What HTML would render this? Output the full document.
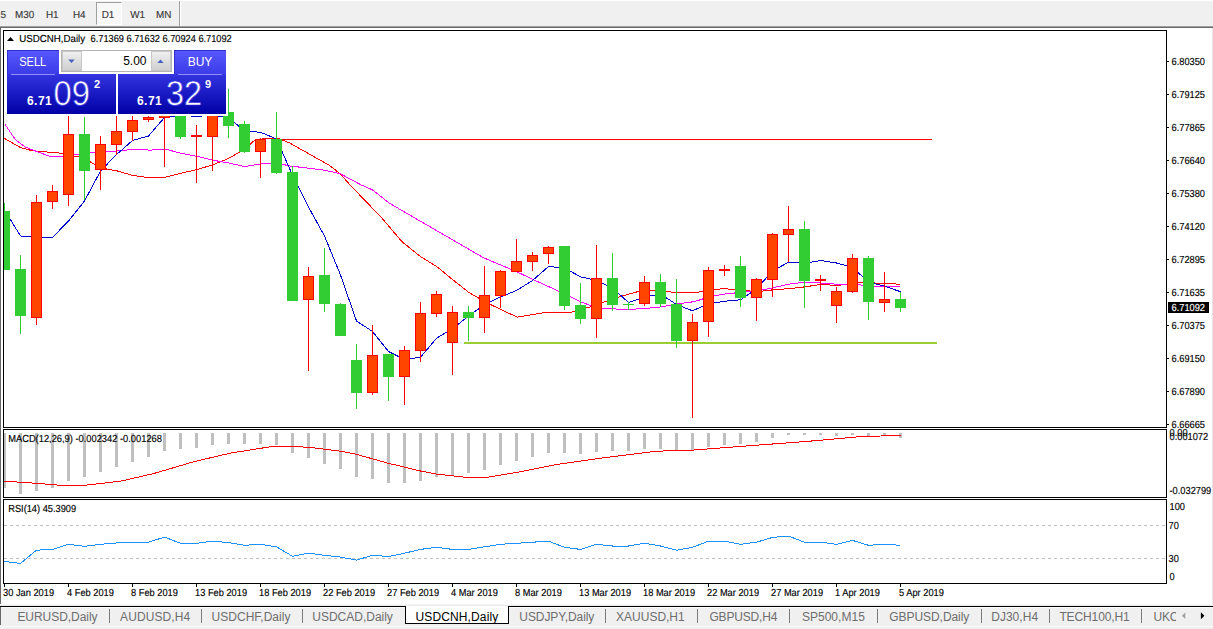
<!DOCTYPE html>
<html><head><meta charset="utf-8"><title>USDCNH,Daily</title>
<style>
html,body{margin:0;padding:0;background:#fff;}
body{width:1213px;height:629px;position:relative;overflow:hidden;font-family:"Liberation Sans", sans-serif;}
.abs{position:absolute}
#toolbar{position:absolute;left:0;top:1px;width:1213px;height:25px;background:#f0f0f0}
.tb{position:absolute;top:8px;font-size:9px;line-height:12px;color:#3c3c3c;white-space:pre}
#d1{position:absolute;left:96px;top:1px;width:24px;height:21px;background:#f8f8f8;border-left:1px solid #a0a0a0;border-top:1px solid #a0a0a0;border-right:1px solid #fff;border-bottom:1px solid #fff;box-sizing:content-box}
#tabs{position:absolute;left:0;top:606px;width:1213px;height:23px;background:#f0f0f0;border-top:1px solid #000;box-sizing:border-box}
.tab{position:absolute;top:3px;font-size:12px;line-height:14px;color:#6e6e6e;white-space:pre}
.tab.act{color:#000}
.sep{position:absolute;top:2px;width:1px;height:14px;background:#7a7a7a}
#act{position:absolute;left:405px;top:606px;width:102px;height:17px;background:#fff;border:1px solid #000;border-top:none}
/* trade panel */
#panel{position:absolute;left:5px;top:48px;width:223px;height:68px;background:#fff}
.btn{position:absolute;top:2px;width:52px;height:24px;background:linear-gradient(#5858ff,#3c3ce8);box-shadow:inset 1px 1px 0 #3030d0;color:#fff;font-size:12px;line-height:24px;text-align:center}
.btn span{display:inline-block;transform:scaleX(0.88)}
.btn{z-index:2}
.btn i{position:absolute;left:4px;right:4px;bottom:-1px;height:1px;background:#8f8ff5}
.px{position:absolute;top:26px;height:40px;background:linear-gradient(#3434e0,#0000a6);color:#fff}
.px b{position:absolute;font-size:12px;line-height:12px;top:21px;letter-spacing:0.45px}
.px em{position:absolute;font-style:normal;font-size:33.5px;line-height:34px;top:2.5px;transform:scaleX(0.945);transform-origin:0 0}
.px sup{position:absolute;font-weight:bold;font-size:11px;line-height:12px;top:4px}
#spin{position:absolute;left:56px;top:2px;width:109px;height:20px;border:1px solid #b4b4b4;background:#fff}
.sb{position:absolute;top:0;width:20px;height:20px;background:linear-gradient(#efefef,#cfcfcf);border:1px solid #c8c8c8;box-sizing:border-box}
#vol{position:absolute;right:24.5px;top:3px;font-size:12px;line-height:14px;color:#000}
</style></head><body>
<div id="toolbar"><div id="d1"></div><div class="abs" style="left:179px;top:0;width:1px;height:25px;background:#a0a0a0"></div><div class="abs" style="left:180px;top:0;width:1px;height:25px;background:#fff"></div></div>
<div class="abs" style="left:0;top:26px;width:1213px;height:1px;background:#a0a0a0"></div>
<div class="abs" style="left:0;top:27px;width:1213px;height:1px;background:#696969"></div>
<div class="abs" style="left:0;top:28px;width:1px;height:576px;background:#696969"></div>
<div class="abs" style="left:1212px;top:28px;width:1px;height:578px;background:#e6e6e6"></div>
<div class="abs" style="left:0;top:604px;width:1213px;height:1px;background:#f6f6f6"></div><div class="abs" style="left:0;top:605px;width:1213px;height:1px;background:#ebebeb"></div>
<svg width="1213" height="629" viewBox="0 0 1213 629" style="position:absolute;left:0;top:0"><defs><clipPath id="c1"><rect x="4" y="31" width="1162" height="396"/></clipPath><clipPath id="c2"><rect x="4" y="430" width="1162" height="67"/></clipPath><clipPath id="c3"><rect x="4" y="500" width="1162" height="83"/></clipPath></defs>
<g clip-path="url(#c1)" shape-rendering="crispEdges">
<rect x="276" y="139" width="656" height="1" fill="#ff0000"/>
<rect x="464" y="342" width="473" height="2" fill="#9acd32"/>
<polyline points="4.5,138.4 20.5,147.6 32.5,150.8 62.5,153.3 84.5,158.3 100.5,168 116.5,170.7 132.5,175.4 146.5,177.3 165,177.3 181.1,173.2 197.2,169.5 212.7,164.9 228.8,158.3 244.8,149 254.5,140.3 260.8,139.1 277,137.9 289.4,142.8 309.2,154 329,165.1 340,173.6 350.1,185 380.9,217 402,241.7 420.5,256.6 436.7,266.5 452.5,279.5 468.5,292.2 484.5,301.5 500.5,309.4 517.3,317.1 544.5,312.6 560.5,312.2 571.5,312.2 591.5,306.5 612.5,299.1 628.5,294.1 644.5,289.9 660.5,290.4 677,292.9 694.5,292.9 708.5,289.9 724.2,288.7 740.3,289.9 756.5,291.7 772.5,289.9 788.5,288.7 804.5,286.9 821.5,284.4 837.5,285.5 863.5,282.2 874.5,283 900.5,284.2" fill="none" stroke="#ff0000" stroke-width="1"/>
<polyline points="4.5,123.6 15.4,139.7 25.3,147.1 50.1,156.5 60,156.5 84.8,153.3 100.9,151.5 120.3,150.9 132.7,149.3 140.2,149.3 150.1,150.2 165,149 181.1,153.3 197.2,156.4 212.7,160.2 228.8,162.9 244.3,166.6 260.8,163.8 275.5,162.7 289.4,165.9 324.1,170.1 340,173.6 361.3,185 372.2,189.7 389.5,203.3 483.8,257.9 516.1,271.5 533.5,279.7 570.5,296.6 580.3,301.6 591.5,306 602.5,308.5 628.5,309.5 644.5,308.5 660.5,307 677,304 694.5,301.6 708.5,297.1 724.2,294.1 740.3,292.4 756.5,290.9 772.5,287.9 788.5,284.2 804.5,282.2 820.9,283 836.5,284.2 852.5,284.2 879.5,286.7 900.5,286.2" fill="none" stroke="#ff00ff" stroke-width="1"/>
<polyline points="4.5,210 20.5,236 36.5,236.8 52.5,237.4 68.5,221 84.5,201 100.5,171 116.5,154.6 132.5,140.5 148.5,136 164.5,117.5 180.5,115.3 196.5,116.4 212.5,115.3 228.5,117.2 244.5,131.3 260.5,132.2 276.5,139 292.5,175 308.5,207 324.5,236 340.5,275 356.5,321 372.5,331.5 388.5,351.5 404.5,359.5 420.5,357.3 436.5,338.2 452.5,328.8 468.5,316 484.5,304.7 500.5,297 516.5,290.5 532.5,280.5 548.5,266.5 564.5,268 580.5,276.8 596.5,280.5 612.5,288 628.5,302.5 644.5,297 660.5,294 676.5,304.5 692.5,310.8 708.5,303.8 724.5,301.2 740.5,299.8 756.5,289 772.5,271 788.5,262.2 804.5,263.3 820.5,260.5 836.5,263 852.5,267.5 868.5,282 884.5,286.2 900.5,291.7" fill="none" stroke="#0000cd" stroke-width="1"/>
<rect x="4" y="203" width="1" height="67" fill="#32cd32"/>
<rect x="-1" y="211" width="11" height="59" fill="#32cd32"/>
<rect x="20" y="255" width="1" height="79" fill="#32cd32"/>
<rect x="15" y="269" width="11" height="47" fill="#32cd32"/>
<rect x="36" y="195" width="1" height="130" fill="#ff0000"/>
<rect x="31" y="202" width="11" height="116" fill="#ff0000"/>
<rect x="32" y="203" width="9" height="114" fill="#ff4500"/>
<rect x="52" y="185" width="1" height="24" fill="#ff0000"/>
<rect x="47" y="191" width="11" height="11" fill="#ff0000"/>
<rect x="48" y="192" width="9" height="9" fill="#ff4500"/>
<rect x="68" y="116" width="1" height="90" fill="#ff0000"/>
<rect x="63" y="134" width="11" height="61" fill="#ff0000"/>
<rect x="64" y="135" width="9" height="59" fill="#ff4500"/>
<rect x="84" y="117" width="1" height="83" fill="#32cd32"/>
<rect x="79" y="134" width="11" height="37" fill="#32cd32"/>
<rect x="100" y="136" width="1" height="54" fill="#ff0000"/>
<rect x="95" y="144" width="11" height="26" fill="#ff0000"/>
<rect x="96" y="145" width="9" height="24" fill="#ff4500"/>
<rect x="116" y="110" width="1" height="45" fill="#ff0000"/>
<rect x="111" y="131" width="11" height="14" fill="#ff0000"/>
<rect x="112" y="132" width="9" height="12" fill="#ff4500"/>
<rect x="132" y="110" width="1" height="31" fill="#ff0000"/>
<rect x="127" y="120" width="11" height="12" fill="#ff0000"/>
<rect x="128" y="121" width="9" height="10" fill="#ff4500"/>
<rect x="148" y="115" width="1" height="7" fill="#ff0000"/>
<rect x="143" y="117" width="11" height="3" fill="#ff0000"/>
<rect x="144" y="118" width="9" height="1" fill="#ff4500"/>
<rect x="164" y="105" width="1" height="62" fill="#ff0000"/>
<rect x="159" y="110" width="11" height="8" fill="#ff0000"/>
<rect x="160" y="111" width="9" height="6" fill="#ff4500"/>
<rect x="180" y="105" width="1" height="34" fill="#32cd32"/>
<rect x="175" y="110" width="11" height="27" fill="#32cd32"/>
<rect x="196" y="125" width="1" height="58" fill="#ff0000"/>
<rect x="191" y="135" width="11" height="2" fill="#ff0000"/>
<rect x="212" y="105" width="1" height="66" fill="#ff0000"/>
<rect x="207" y="110" width="11" height="27" fill="#ff0000"/>
<rect x="208" y="111" width="9" height="25" fill="#ff4500"/>
<rect x="228" y="89" width="1" height="49" fill="#32cd32"/>
<rect x="223" y="112" width="11" height="14" fill="#32cd32"/>
<rect x="244" y="121" width="1" height="32" fill="#32cd32"/>
<rect x="239" y="124" width="11" height="28" fill="#32cd32"/>
<rect x="260" y="138" width="1" height="40" fill="#ff0000"/>
<rect x="255" y="139" width="11" height="13" fill="#ff0000"/>
<rect x="256" y="140" width="9" height="11" fill="#ff4500"/>
<rect x="276" y="112" width="1" height="62" fill="#32cd32"/>
<rect x="271" y="139" width="11" height="34" fill="#32cd32"/>
<rect x="292" y="166" width="1" height="135" fill="#32cd32"/>
<rect x="287" y="172" width="11" height="129" fill="#32cd32"/>
<rect x="308" y="267" width="1" height="104" fill="#ff0000"/>
<rect x="303" y="276" width="11" height="24" fill="#ff0000"/>
<rect x="304" y="277" width="9" height="22" fill="#ff4500"/>
<rect x="324" y="248" width="1" height="64" fill="#32cd32"/>
<rect x="319" y="275" width="11" height="29" fill="#32cd32"/>
<rect x="340" y="303" width="1" height="33" fill="#32cd32"/>
<rect x="335" y="304" width="11" height="32" fill="#32cd32"/>
<rect x="356" y="344" width="1" height="65" fill="#32cd32"/>
<rect x="351" y="360" width="11" height="33" fill="#32cd32"/>
<rect x="372" y="325" width="1" height="70" fill="#ff0000"/>
<rect x="367" y="355" width="11" height="38" fill="#ff0000"/>
<rect x="368" y="356" width="9" height="36" fill="#ff4500"/>
<rect x="388" y="354" width="1" height="47" fill="#32cd32"/>
<rect x="383" y="354" width="11" height="23" fill="#32cd32"/>
<rect x="404" y="346" width="1" height="59" fill="#ff0000"/>
<rect x="399" y="350" width="11" height="27" fill="#ff0000"/>
<rect x="400" y="351" width="9" height="25" fill="#ff4500"/>
<rect x="420" y="302" width="1" height="60" fill="#ff0000"/>
<rect x="415" y="313" width="11" height="38" fill="#ff0000"/>
<rect x="416" y="314" width="9" height="36" fill="#ff4500"/>
<rect x="436" y="291" width="1" height="26" fill="#ff0000"/>
<rect x="431" y="294" width="11" height="20" fill="#ff0000"/>
<rect x="432" y="295" width="9" height="18" fill="#ff4500"/>
<rect x="452" y="306" width="1" height="69" fill="#ff0000"/>
<rect x="447" y="312" width="11" height="31" fill="#ff0000"/>
<rect x="448" y="313" width="9" height="29" fill="#ff4500"/>
<rect x="468" y="306" width="1" height="35" fill="#32cd32"/>
<rect x="463" y="312" width="11" height="6" fill="#32cd32"/>
<rect x="484" y="266" width="1" height="67" fill="#ff0000"/>
<rect x="479" y="295" width="11" height="23" fill="#ff0000"/>
<rect x="480" y="296" width="9" height="21" fill="#ff4500"/>
<rect x="500" y="270" width="1" height="38" fill="#ff0000"/>
<rect x="495" y="271" width="11" height="25" fill="#ff0000"/>
<rect x="496" y="272" width="9" height="23" fill="#ff4500"/>
<rect x="516" y="239" width="1" height="33" fill="#ff0000"/>
<rect x="511" y="261" width="11" height="11" fill="#ff0000"/>
<rect x="512" y="262" width="9" height="9" fill="#ff4500"/>
<rect x="532" y="252" width="1" height="19" fill="#ff0000"/>
<rect x="527" y="255" width="11" height="7" fill="#ff0000"/>
<rect x="528" y="256" width="9" height="5" fill="#ff4500"/>
<rect x="548" y="246" width="1" height="18" fill="#ff0000"/>
<rect x="543" y="247" width="11" height="7" fill="#ff0000"/>
<rect x="544" y="248" width="9" height="5" fill="#ff4500"/>
<rect x="564" y="246" width="1" height="64" fill="#32cd32"/>
<rect x="559" y="246" width="11" height="60" fill="#32cd32"/>
<rect x="580" y="283" width="1" height="41" fill="#32cd32"/>
<rect x="575" y="305" width="11" height="14" fill="#32cd32"/>
<rect x="596" y="245" width="1" height="93" fill="#ff0000"/>
<rect x="591" y="278" width="11" height="41" fill="#ff0000"/>
<rect x="592" y="279" width="9" height="39" fill="#ff4500"/>
<rect x="612" y="253" width="1" height="58" fill="#32cd32"/>
<rect x="607" y="278" width="11" height="27" fill="#32cd32"/>
<rect x="628" y="302" width="1" height="8" fill="#32cd32"/>
<rect x="623" y="304" width="11" height="1" fill="#32cd32"/>
<rect x="644" y="276" width="1" height="30" fill="#ff0000"/>
<rect x="639" y="282" width="11" height="22" fill="#ff0000"/>
<rect x="640" y="283" width="9" height="20" fill="#ff4500"/>
<rect x="660" y="274" width="1" height="33" fill="#32cd32"/>
<rect x="655" y="282" width="11" height="22" fill="#32cd32"/>
<rect x="676" y="279" width="1" height="69" fill="#32cd32"/>
<rect x="671" y="304" width="11" height="37" fill="#32cd32"/>
<rect x="692" y="314" width="1" height="104" fill="#ff0000"/>
<rect x="687" y="322" width="11" height="19" fill="#ff0000"/>
<rect x="688" y="323" width="9" height="17" fill="#ff4500"/>
<rect x="708" y="267" width="1" height="70" fill="#ff0000"/>
<rect x="703" y="270" width="11" height="52" fill="#ff0000"/>
<rect x="704" y="271" width="9" height="50" fill="#ff4500"/>
<rect x="724" y="265" width="1" height="11" fill="#ff0000"/>
<rect x="719" y="269" width="11" height="2" fill="#ff0000"/>
<rect x="740" y="256" width="1" height="51" fill="#32cd32"/>
<rect x="735" y="266" width="11" height="32" fill="#32cd32"/>
<rect x="756" y="278" width="1" height="43" fill="#ff0000"/>
<rect x="751" y="279" width="11" height="19" fill="#ff0000"/>
<rect x="752" y="280" width="9" height="17" fill="#ff4500"/>
<rect x="772" y="233" width="1" height="64" fill="#ff0000"/>
<rect x="767" y="234" width="11" height="46" fill="#ff0000"/>
<rect x="768" y="235" width="9" height="44" fill="#ff4500"/>
<rect x="788" y="206" width="1" height="56" fill="#ff0000"/>
<rect x="783" y="229" width="11" height="6" fill="#ff0000"/>
<rect x="784" y="230" width="9" height="4" fill="#ff4500"/>
<rect x="804" y="221" width="1" height="87" fill="#32cd32"/>
<rect x="799" y="229" width="11" height="52" fill="#32cd32"/>
<rect x="820" y="275" width="1" height="16" fill="#ff0000"/>
<rect x="815" y="279" width="11" height="2" fill="#ff0000"/>
<rect x="836" y="287" width="1" height="36" fill="#ff0000"/>
<rect x="831" y="291" width="11" height="15" fill="#ff0000"/>
<rect x="832" y="292" width="9" height="13" fill="#ff4500"/>
<rect x="852" y="254" width="1" height="39" fill="#ff0000"/>
<rect x="847" y="258" width="11" height="34" fill="#ff0000"/>
<rect x="848" y="259" width="9" height="32" fill="#ff4500"/>
<rect x="868" y="256" width="1" height="64" fill="#32cd32"/>
<rect x="863" y="258" width="11" height="44" fill="#32cd32"/>
<rect x="884" y="272" width="1" height="40" fill="#ff0000"/>
<rect x="879" y="299" width="11" height="4" fill="#ff0000"/>
<rect x="880" y="300" width="9" height="2" fill="#ff4500"/>
<rect x="900" y="292" width="1" height="20" fill="#32cd32"/>
<rect x="895" y="299" width="11" height="9" fill="#32cd32"/>
</g>
<g clip-path="url(#c2)" shape-rendering="crispEdges">
<rect x="3" y="433" width="3" height="55" fill="#c0c0c0"/>
<rect x="19" y="433" width="3" height="61" fill="#c0c0c0"/>
<rect x="35" y="433" width="3" height="58" fill="#c0c0c0"/>
<rect x="51" y="433" width="3" height="55" fill="#c0c0c0"/>
<rect x="67" y="433" width="3" height="48" fill="#c0c0c0"/>
<rect x="83" y="433" width="3" height="44" fill="#c0c0c0"/>
<rect x="99" y="433" width="3" height="39" fill="#c0c0c0"/>
<rect x="115" y="433" width="3" height="34" fill="#c0c0c0"/>
<rect x="131" y="433" width="3" height="29" fill="#c0c0c0"/>
<rect x="147" y="433" width="3" height="24" fill="#c0c0c0"/>
<rect x="163" y="433" width="3" height="18" fill="#c0c0c0"/>
<rect x="179" y="433" width="3" height="16" fill="#c0c0c0"/>
<rect x="195" y="433" width="3" height="15" fill="#c0c0c0"/>
<rect x="211" y="433" width="3" height="12" fill="#c0c0c0"/>
<rect x="227" y="433" width="3" height="11" fill="#c0c0c0"/>
<rect x="243" y="433" width="3" height="11" fill="#c0c0c0"/>
<rect x="259" y="433" width="3" height="11" fill="#c0c0c0"/>
<rect x="275" y="433" width="3" height="12" fill="#c0c0c0"/>
<rect x="291" y="433" width="3" height="20" fill="#c0c0c0"/>
<rect x="307" y="433" width="3" height="25" fill="#c0c0c0"/>
<rect x="323" y="433" width="3" height="31" fill="#c0c0c0"/>
<rect x="339" y="433" width="3" height="36" fill="#c0c0c0"/>
<rect x="355" y="433" width="3" height="44" fill="#c0c0c0"/>
<rect x="371" y="433" width="3" height="46" fill="#c0c0c0"/>
<rect x="387" y="433" width="3" height="50" fill="#c0c0c0"/>
<rect x="403" y="433" width="3" height="50" fill="#c0c0c0"/>
<rect x="419" y="433" width="3" height="48" fill="#c0c0c0"/>
<rect x="435" y="433" width="3" height="44" fill="#c0c0c0"/>
<rect x="451" y="433" width="3" height="42" fill="#c0c0c0"/>
<rect x="467" y="433" width="3" height="40" fill="#c0c0c0"/>
<rect x="483" y="433" width="3" height="37" fill="#c0c0c0"/>
<rect x="499" y="433" width="3" height="32" fill="#c0c0c0"/>
<rect x="515" y="433" width="3" height="28" fill="#c0c0c0"/>
<rect x="531" y="433" width="3" height="24" fill="#c0c0c0"/>
<rect x="547" y="433" width="3" height="20" fill="#c0c0c0"/>
<rect x="563" y="433" width="3" height="20" fill="#c0c0c0"/>
<rect x="579" y="433" width="3" height="21" fill="#c0c0c0"/>
<rect x="595" y="433" width="3" height="19" fill="#c0c0c0"/>
<rect x="611" y="433" width="3" height="18" fill="#c0c0c0"/>
<rect x="627" y="433" width="3" height="18" fill="#c0c0c0"/>
<rect x="643" y="433" width="3" height="16" fill="#c0c0c0"/>
<rect x="659" y="433" width="3" height="16" fill="#c0c0c0"/>
<rect x="675" y="433" width="3" height="18" fill="#c0c0c0"/>
<rect x="691" y="433" width="3" height="18" fill="#c0c0c0"/>
<rect x="707" y="433" width="3" height="14" fill="#c0c0c0"/>
<rect x="723" y="433" width="3" height="12" fill="#c0c0c0"/>
<rect x="739" y="433" width="3" height="11" fill="#c0c0c0"/>
<rect x="755" y="433" width="3" height="9" fill="#c0c0c0"/>
<rect x="771" y="433" width="3" height="5" fill="#c0c0c0"/>
<rect x="787" y="433" width="3" height="2" fill="#c0c0c0"/>
<rect x="803" y="433" width="3" height="2" fill="#c0c0c0"/>
<rect x="819" y="433" width="3" height="2" fill="#c0c0c0"/>
<rect x="835" y="433" width="3" height="3" fill="#c0c0c0"/>
<rect x="851" y="433" width="3" height="2" fill="#c0c0c0"/>
<rect x="867" y="433" width="3" height="3" fill="#c0c0c0"/>
<rect x="883" y="433" width="3" height="3" fill="#c0c0c0"/>
<rect x="899" y="433" width="3" height="5" fill="#c0c0c0"/>
<polyline points="4.3,481.2 36.3,483.3 64.4,485.6 87.4,485 120.5,481.2 153.5,473.6 194.5,461.5 230.5,453.1 273.9,446.2 291.5,446.2 310.5,447.5 341.5,451.3 356.5,454.4 388.5,463.3 420.5,471 435.9,474 466.5,477.4 487.1,477.4 517.5,472.3 556.1,464.6 600.5,458.2 651.5,451.8 677.2,450 693.8,450 753.8,445.4 804.9,441.6 856.1,437 900.5,435.2" fill="none" stroke="#ff0000" stroke-width="1"/>
</g>
<g clip-path="url(#c3)" shape-rendering="crispEdges">
<line x1="4" y1="525.5" x2="1166" y2="525.5" stroke="#c0c0c0" stroke-dasharray="3 3"/>
<line x1="4" y1="558.5" x2="1166" y2="558.5" stroke="#c0c0c0" stroke-dasharray="3 3"/>
<polyline points="4.5,561.4 20.5,563.4 36.5,550.2 52.5,549.4 68.5,544.3 84.5,546.3 100.5,544.3 116.5,543 132.5,542.2 148.5,542.2 164.5,537.1 180.5,543.3 196.5,543.3 212.5,541.2 228.5,542.5 244.5,545.3 260.5,544.3 276.5,546.8 292.5,556.3 308.5,553.2 324.5,555.3 340.5,557.1 356.5,560.1 372.5,555.3 388.5,556.5 404.5,553.2 420.5,549.4 436.5,547.3 452.5,549.4 468.5,549.4 484.5,546.8 500.5,544.3 516.5,543.3 532.5,542.2 548.5,541.2 564.5,547.3 580.5,549.4 596.5,544.3 612.5,546 628.5,546 644.5,543.3 660.5,546 676.5,550.2 692.5,547.3 708.5,541.2 724.5,541.2 740.5,544.3 756.5,542.2 772.5,537.4 788.5,536.1 804.5,542.2 820.5,542.2 836.5,544.3 852.5,540.4 868.5,545.3 884.5,544.3 900.5,545.3" fill="none" stroke="#1e90ff" stroke-width="1"/>
</g>
<g shape-rendering="crispEdges" fill="#000">
<rect x="3" y="30" width="1" height="554" fill="#000"/>
<rect x="3" y="30" width="1164" height="1" fill="#000"/>
<rect x="1166" y="30" width="1" height="398" fill="#000"/>
<rect x="3" y="427" width="1164" height="1" fill="#000"/>
<rect x="3" y="428" width="1" height="1" fill="#fff"/>
<rect x="3" y="429" width="1164" height="1" fill="#000"/>
<rect x="1166" y="429" width="1" height="69" fill="#000"/>
<rect x="3" y="497" width="1164" height="1" fill="#000"/>
<rect x="3" y="498" width="1" height="1" fill="#fff"/>
<rect x="3" y="499" width="1164" height="1" fill="#000"/>
<rect x="1166" y="499" width="1" height="85" fill="#000"/>
<rect x="3" y="583" width="1164" height="1" fill="#000"/>
<rect x="1167" y="61" width="2" height="1" fill="#000"/>
<rect x="1167" y="94" width="2" height="1" fill="#000"/>
<rect x="1167" y="127" width="2" height="1" fill="#000"/>
<rect x="1167" y="160" width="2" height="1" fill="#000"/>
<rect x="1167" y="193" width="2" height="1" fill="#000"/>
<rect x="1167" y="226" width="2" height="1" fill="#000"/>
<rect x="1167" y="259" width="2" height="1" fill="#000"/>
<rect x="1167" y="292" width="2" height="1" fill="#000"/>
<rect x="1167" y="325" width="2" height="1" fill="#000"/>
<rect x="1167" y="358" width="2" height="1" fill="#000"/>
<rect x="1167" y="391" width="2" height="1" fill="#000"/>
<rect x="1167" y="424" width="2" height="1" fill="#000"/>
<rect x="4" y="584" width="1" height="3" fill="#000"/>
<rect x="68" y="584" width="1" height="3" fill="#000"/>
<rect x="132" y="584" width="1" height="3" fill="#000"/>
<rect x="196" y="584" width="1" height="3" fill="#000"/>
<rect x="260" y="584" width="1" height="3" fill="#000"/>
<rect x="324" y="584" width="1" height="3" fill="#000"/>
<rect x="388" y="584" width="1" height="3" fill="#000"/>
<rect x="452" y="584" width="1" height="3" fill="#000"/>
<rect x="516" y="584" width="1" height="3" fill="#000"/>
<rect x="580" y="584" width="1" height="3" fill="#000"/>
<rect x="644" y="584" width="1" height="3" fill="#000"/>
<rect x="708" y="584" width="1" height="3" fill="#000"/>
<rect x="772" y="584" width="1" height="3" fill="#000"/>
<rect x="836" y="584" width="1" height="3" fill="#000"/>
<rect x="900" y="584" width="1" height="3" fill="#000"/>
<rect x="1168" y="302" width="41" height="11" fill="#000"/>
</g>
<g font-family='"Liberation Sans", sans-serif' text-rendering="geometricPrecision">
<text transform="translate(1171.5,65) scale(0.91,1)" font-size="10.2" fill="#000" stroke="#000" stroke-width="0.15">6.80350</text>
<text transform="translate(1171.5,98) scale(0.91,1)" font-size="10.2" fill="#000" stroke="#000" stroke-width="0.15">6.79125</text>
<text transform="translate(1171.5,131) scale(0.91,1)" font-size="10.2" fill="#000" stroke="#000" stroke-width="0.15">6.77865</text>
<text transform="translate(1171.5,164) scale(0.91,1)" font-size="10.2" fill="#000" stroke="#000" stroke-width="0.15">6.76640</text>
<text transform="translate(1171.5,197) scale(0.91,1)" font-size="10.2" fill="#000" stroke="#000" stroke-width="0.15">6.75380</text>
<text transform="translate(1171.5,230) scale(0.91,1)" font-size="10.2" fill="#000" stroke="#000" stroke-width="0.15">6.74120</text>
<text transform="translate(1171.5,263) scale(0.91,1)" font-size="10.2" fill="#000" stroke="#000" stroke-width="0.15">6.72895</text>
<text transform="translate(1171.5,296) scale(0.91,1)" font-size="10.2" fill="#000" stroke="#000" stroke-width="0.15">6.71635</text>
<text transform="translate(1171.5,329) scale(0.91,1)" font-size="10.2" fill="#000" stroke="#000" stroke-width="0.15">6.70375</text>
<text transform="translate(1171.5,362) scale(0.91,1)" font-size="10.2" fill="#000" stroke="#000" stroke-width="0.15">6.69150</text>
<text transform="translate(1171.5,395) scale(0.91,1)" font-size="10.2" fill="#000" stroke="#000" stroke-width="0.15">6.67890</text>
<text transform="translate(1171.5,428) scale(0.91,1)" font-size="10.2" fill="#000" stroke="#000" stroke-width="0.15">6.66665</text>
<text transform="translate(1171.5,311) scale(0.91,1)" font-size="10.2" fill="#fff" stroke="#fff" stroke-width="0.15">6.71092</text>
<text transform="translate(1169.5,436) scale(0.91,1)" font-size="10.2" fill="#000" stroke="#000" stroke-width="0.15">0.00</text>
<text transform="translate(1169.5,439.5) scale(0.91,1)" font-size="10.2" fill="#000" stroke="#000" stroke-width="0.15">0.001072</text>
<text transform="translate(1169.5,493.5) scale(0.91,1)" font-size="10.2" fill="#000" stroke="#000" stroke-width="0.15">-0.032799</text>
<text transform="translate(1169.5,510) scale(0.91,1)" font-size="10.2" fill="#000" stroke="#000" stroke-width="0.15">100</text>
<text transform="translate(1168.5,529) scale(0.91,1)" font-size="10.2" fill="#000" stroke="#000" stroke-width="0.15">70</text>
<text transform="translate(1168.5,562) scale(0.91,1)" font-size="10.2" fill="#000" stroke="#000" stroke-width="0.15">30</text>
<text transform="translate(1169.5,580) scale(0.91,1)" font-size="10.2" fill="#000" stroke="#000" stroke-width="0.15">0</text>
<text transform="translate(3,596) scale(0.91,1)" font-size="10.2" fill="#000" stroke="#000" stroke-width="0.15">30 Jan 2019</text>
<text transform="translate(67,596) scale(0.91,1)" font-size="10.2" fill="#000" stroke="#000" stroke-width="0.15">4 Feb 2019</text>
<text transform="translate(131,596) scale(0.91,1)" font-size="10.2" fill="#000" stroke="#000" stroke-width="0.15">8 Feb 2019</text>
<text transform="translate(195,596) scale(0.91,1)" font-size="10.2" fill="#000" stroke="#000" stroke-width="0.15">13 Feb 2019</text>
<text transform="translate(259,596) scale(0.91,1)" font-size="10.2" fill="#000" stroke="#000" stroke-width="0.15">18 Feb 2019</text>
<text transform="translate(323,596) scale(0.91,1)" font-size="10.2" fill="#000" stroke="#000" stroke-width="0.15">22 Feb 2019</text>
<text transform="translate(387,596) scale(0.91,1)" font-size="10.2" fill="#000" stroke="#000" stroke-width="0.15">27 Feb 2019</text>
<text transform="translate(451,596) scale(0.91,1)" font-size="10.2" fill="#000" stroke="#000" stroke-width="0.15">4 Mar 2019</text>
<text transform="translate(515,596) scale(0.91,1)" font-size="10.2" fill="#000" stroke="#000" stroke-width="0.15">8 Mar 2019</text>
<text transform="translate(579,596) scale(0.91,1)" font-size="10.2" fill="#000" stroke="#000" stroke-width="0.15">13 Mar 2019</text>
<text transform="translate(643,596) scale(0.91,1)" font-size="10.2" fill="#000" stroke="#000" stroke-width="0.15">18 Mar 2019</text>
<text transform="translate(707,596) scale(0.91,1)" font-size="10.2" fill="#000" stroke="#000" stroke-width="0.15">22 Mar 2019</text>
<text transform="translate(771,596) scale(0.91,1)" font-size="10.2" fill="#000" stroke="#000" stroke-width="0.15">27 Mar 2019</text>
<text transform="translate(835,596) scale(0.91,1)" font-size="10.2" fill="#000" stroke="#000" stroke-width="0.15">1 Apr 2019</text>
<text transform="translate(899,596) scale(0.91,1)" font-size="10.2" fill="#000" stroke="#000" stroke-width="0.15">5 Apr 2019</text>
<path d="M7 41 L10.5 37 L14 41 Z" fill="#000"/>
<text transform="translate(19.2,42) scale(0.955,1)" font-size="10.2" fill="#000" stroke="#000" stroke-width="0.15">USDCNH,Daily</text>
<text transform="translate(90.6,42) scale(0.906,1)" font-size="10.2" fill="#000" stroke="#000" stroke-width="0.15">6.71369 6.71632 6.70924 6.71092</text>
<text transform="translate(8.2,442) scale(0.914,1)" font-size="10.2" fill="#000" stroke="#000" stroke-width="0.15">MACD(12,26,9) -0.002342 -0.001268</text>
<text transform="translate(8.2,512) scale(0.909,1)" font-size="10.2" fill="#000" stroke="#000" stroke-width="0.15">RSI(14) 45.3909</text>
<text transform="translate(0.4,18) scale(0.97,1)" font-size="10.2" fill="#3a3a3a" stroke="#3a3a3a" stroke-width="0.15">5</text>
<text transform="translate(15,18) scale(0.97,1)" font-size="10.2" fill="#3a3a3a" stroke="#3a3a3a" stroke-width="0.15">M30</text>
<text transform="translate(45.9,18) scale(0.97,1)" font-size="10.2" fill="#3a3a3a" stroke="#3a3a3a" stroke-width="0.15">H1</text>
<text transform="translate(72.9,18) scale(0.97,1)" font-size="10.2" fill="#3a3a3a" stroke="#3a3a3a" stroke-width="0.15">H4</text>
<text transform="translate(101.7,18) scale(0.97,1)" font-size="10.2" fill="#3a3a3a" stroke="#3a3a3a" stroke-width="0.15">D1</text>
<text transform="translate(130.2,18) scale(0.97,1)" font-size="10.2" fill="#3a3a3a" stroke="#3a3a3a" stroke-width="0.15">W1</text>
<text transform="translate(155.9,18) scale(0.97,1)" font-size="10.2" fill="#3a3a3a" stroke="#3a3a3a" stroke-width="0.15">MN</text>
</g></svg>
<div id="panel">
 <div class="btn" style="left:2px"><span style="transform:scaleX(0.92)">SELL</span><i></i></div>
 <div class="btn" style="left:169px"><span style="transform:none">BUY</span><i></i></div>
 <div id="spin"><div class="sb" style="left:0"><svg width="18" height="18" style="position:absolute;left:0;top:0"><path d="M5.3 7.5 L11.7 7.5 L8.5 11 Z" fill="#4a5fc0"/></svg></div><div id="vol">5.00</div><div class="sb" style="right:0"><svg width="18" height="18" style="position:absolute;left:0;top:0"><path d="M5.3 11 L11.7 11 L8.5 7.5 Z" fill="#4a5fc0"/></svg></div></div>
 <div class="px" style="left:2px;width:109px"><b style="left:20px">6.71</b><sup style="left:87px">2</sup></div>
 <div class="px" style="left:113px;width:108px"><b style="left:19px">6.71</b><sup style="left:87px">9</sup></div>
</div>
<svg width="230" height="120" viewBox="0 0 230 120" style="position:absolute;left:0;top:0" font-family='"Liberation Sans", sans-serif'>
<defs><linearGradient id="pg" gradientUnits="userSpaceOnUse" x1="0" y1="74" x2="0" y2="114"><stop offset="0" stop-color="#3434e0"/><stop offset="1" stop-color="#0000a6"/></linearGradient></defs>
<g fill="#fff" stroke="url(#pg)" stroke-width="0.7" font-size="34.5" text-rendering="geometricPrecision">
<text transform="translate(53.4,105.2) scale(0.95,1)">09</text>
<text transform="translate(166.0,105.2) scale(0.94,1)">32</text>
</g></svg>
<div id="tabs"><div class="abs" style="left:0;top:0;width:1213px;height:1px;background:#fbfbfb"></div><div class="abs" style="left:0;top:0;width:1px;height:18px;background:#696969"></div><span class="tab" style="left:17.4px;letter-spacing:-0.05px">EURUSD,Daily</span><span class="tab" style="left:120.1px;letter-spacing:0.09px">AUDUSD,H4</span><span class="tab" style="left:211.6px;letter-spacing:0.01px">USDCHF,Daily</span><span class="tab" style="left:312.3px;letter-spacing:-0.01px">USDCAD,Daily</span><span class="tab" style="left:519.3px;letter-spacing:-0.07px">USDJPY,Daily</span><span class="tab" style="left:616.1px;letter-spacing:-0.01px">XAUUSD,H1</span><span class="tab" style="left:709.4px;letter-spacing:-0.17px">GBPUSD,H4</span><span class="tab" style="left:801.9px;letter-spacing:0.03px">SP500,M15</span><span class="tab" style="left:889.3px;letter-spacing:-0.06px">GBPUSD,Daily</span><span class="tab" style="left:991.2px;letter-spacing:0.03px">DJ30,H4</span><span class="tab" style="left:1059.4px;letter-spacing:-0.12px">TECH100,H1</span><span class="tab" style="left:1153.4px;letter-spacing:-0.11px">UKC</span><i class="sep" style="left:109px"></i><i class="sep" style="left:201px"></i><i class="sep" style="left:302px"></i><i class="sep" style="left:605px"></i><i class="sep" style="left:697px"></i><i class="sep" style="left:789px"></i><i class="sep" style="left:877px"></i><i class="sep" style="left:981px"></i><i class="sep" style="left:1049px"></i><i class="sep" style="left:1141px"></i>
<svg width="36" height="18" style="position:absolute;left:1176px;top:1px;background:#f0f0f0"><path d="M9.3 4.5 L9.3 11 L6 7.75 Z" fill="#a0a0a0"/><path d="M24.9 4.3 L24.9 11.3 L28.4 7.8 Z" fill="#000"/></svg>
</div>
<div id="act"></div>
<span class="tab act" style="left:415.5px;top:610px;letter-spacing:0.13px">USDCNH,Daily</span>
<div class="abs" style="left:0;top:626px;width:1213px;height:1px;background:#fafafa"></div>
</body></html>
